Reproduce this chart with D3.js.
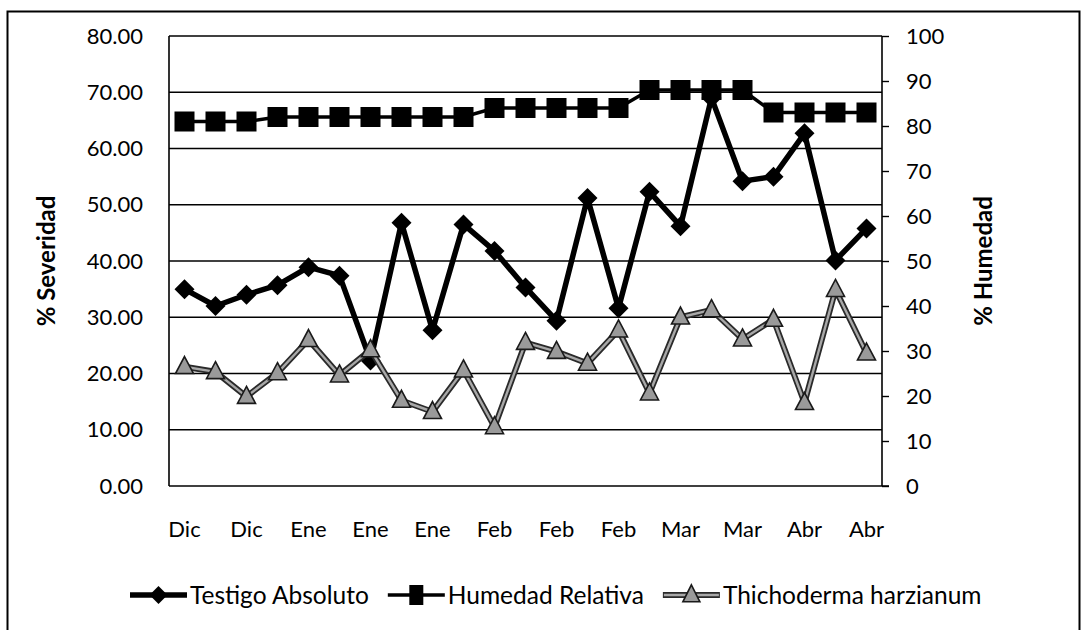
<!DOCTYPE html>
<html>
<head>
<meta charset="utf-8">
<script src="https://cdn.jsdelivr.net/npm/d3@7"></script>
<style>
  html, body { margin: 0; padding: 0; background: #fff; }
  svg { display: block; font-family: Lato, "Open Sans", sans-serif; }
</style>
</head>
<body>
<svg id="chart" width="1082" height="630"></svg>
<script>
// Sampling dates (23 readings, every other one labelled on the axis)
const categories = ["Dic","Dic","Dic","Dic","Ene","Ene","Ene","Ene","Ene","Ene","Feb","Feb",
                    "Feb","Feb","Feb","Mar","Mar","Mar","Mar","Abr","Abr","Abr","Abr"];

// % Severidad (left axis)
const testigo = [35.0, 32.0, 34.0, 35.7, 38.9, 37.4, 22.3, 46.8, 27.7, 46.5, 41.8, 35.3,
                 29.4, 51.2, 31.6, 52.3, 46.2, 69.0, 54.2, 55.0, 62.7, 40.1, 45.8];
const thichoderma = [21.2, 20.3, 15.9, 20.1, 26.0, 19.7, 24.2, 15.2, 13.2, 20.6, 10.5, 25.5,
                     23.9, 21.8, 27.7, 16.5, 30.0, 31.3, 26.1, 29.6, 14.8, 34.9, 23.6];
// % Humedad relativa (right axis)
const humedad = [81, 81, 81, 82, 82, 82, 82, 82, 82, 82, 84, 84,
                 84, 84, 84, 88, 88, 88, 88, 83, 83, 83, 83];

const leftTicks = [0, 10, 20, 30, 40, 50, 60, 70, 80];
const rightTicks = [0, 10, 20, 30, 40, 50, 60, 70, 80, 90, 100];
const seriesNames = ["Testigo Absoluto", "Humedad Relativa", "Thichoderma harzianum"];

const svg = d3.select("#chart");
const plot = { left: 169, right: 882, top: 36, bottom: 486 };

// chart area border
svg.append("rect")
  .attr("x", 7.5).attr("y", 11.5).attr("width", 1072).attr("height", 640)
  .attr("fill", "#fff").attr("stroke", "#000").attr("stroke-width", 2);

const idx = d3.range(categories.length);
const x = d3.scaleBand().domain(idx).range([plot.left, plot.right]).padding(0);
const cx = i => x(i) + x.bandwidth() / 2;
const yL = d3.scaleLinear().domain([0, 80]).range([plot.bottom, plot.top]);
const yR = d3.scaleLinear().domain([0, 100]).range([plot.bottom, plot.top]);

// horizontal gridlines
svg.append("g").selectAll("line").data(leftTicks.filter(d => d > 0)).join("line")
  .attr("x1", plot.left).attr("x2", plot.right)
  .attr("y1", d => yL(d)).attr("y2", d => yL(d))
  .attr("stroke", "#000").attr("stroke-width", 1.4);

// left axis
const gL = svg.append("g").attr("transform", `translate(${plot.left},0)`)
  .call(d3.axisLeft(yL).tickValues(leftTicks).tickFormat(d3.format(".2f")).tickSize(0).tickPadding(26));
// right axis
const gR = svg.append("g").attr("transform", `translate(${plot.right},0)`)
  .call(d3.axisRight(yR).tickValues(rightTicks).tickFormat(d3.format("d")).tickSize(7).tickPadding(17));
// bottom axis
const gB = svg.append("g").attr("transform", `translate(0,${plot.bottom})`)
  .call(d3.axisBottom(x).tickValues(idx.filter(i => i % 2 === 0))
    .tickFormat(i => categories[i]).tickSize(0).tickPadding(35));

[gL, gR, gB].forEach(g => {
  g.select(".domain").attr("stroke", "#000").attr("stroke-width", 1.6);
  g.selectAll(".tick line").attr("stroke", "#000").attr("stroke-width", 1.4);
  g.selectAll("text").attr("fill", "#000").style("font-size", "22px").style("font-family", "Lato, sans-serif");
});
gR.select(".domain").attr("d", `M0,${plot.top}V${plot.bottom}`);
gL.select(".domain").attr("d", `M0,${plot.top}V${plot.bottom}`);
gB.select(".domain").attr("d", `M${plot.left},0H${plot.right + 7}`);

// axis titles
svg.append("text")
  .attr("transform", "translate(55,261) rotate(-90)")
  .attr("text-anchor", "middle").attr("font-weight", "bold").attr("font-size", 24)
  .text("% Severidad");
svg.append("text")
  .attr("transform", "translate(992,261) rotate(-90)")
  .attr("text-anchor", "middle").attr("font-weight", "bold").attr("font-size", 24)
  .text("% Humedad");

// marker shapes
const diamondPath = r => `M0,${-r}L${r},0L0,${r}L${-r},0Z`;
const trianglePath = (w, h) => `M0,${-h * 0.6}L${w / 2},${h * 0.4}L${-w / 2},${h * 0.4}Z`;

const lineL = d3.line().x((d, i) => cx(i)).y(d => yL(d));
const lineR = d3.line().x((d, i) => cx(i)).y(d => yR(d));

// Testigo Absoluto
const gT = svg.append("g");
gT.append("path").attr("d", lineL(testigo)).attr("fill", "none")
  .attr("stroke", "#000").attr("stroke-width", 5.5).attr("stroke-linejoin", "round");
gT.selectAll("path.m").data(testigo).join("path").attr("class", "m")
  .attr("transform", (d, i) => `translate(${cx(i)},${yL(d)})`)
  .attr("d", diamondPath(10)).attr("fill", "#000");

// Humedad Relativa
const gH = svg.append("g");
gH.append("path").attr("d", lineR(humedad)).attr("fill", "none")
  .attr("stroke", "#000").attr("stroke-width", 3.5);
gH.selectAll("rect").data(humedad).join("rect")
  .attr("x", (d, i) => cx(i) - 10).attr("y", d => yR(d) - 10)
  .attr("width", 20).attr("height", 20).attr("fill", "#000");

// Thichoderma harzianum
const gC = svg.append("g");
gC.append("path").attr("d", lineL(thichoderma)).attr("fill", "none")
  .attr("stroke", "#2a2a2a").attr("stroke-width", 6).attr("stroke-linejoin", "round");
gC.append("path").attr("d", lineL(thichoderma)).attr("fill", "none")
  .attr("stroke", "#a8a8a8").attr("stroke-width", 2.4).attr("stroke-linejoin", "round");
gC.selectAll("path.m").data(thichoderma).join("path").attr("class", "m")
  .attr("transform", (d, i) => `translate(${cx(i)},${yL(d)})`)
  .attr("d", trianglePath(18, 17)).attr("fill", "#9a9a9a")
  .attr("stroke", "#1a1a1a").attr("stroke-width", 1.6);

// legend
const legY = 595, symW = 57, txtGap = 3, itemGap = 19;
const leg = svg.append("g");
let lx = 130;
seriesNames.forEach((name, k) => {
  const g = leg.append("g").attr("transform", `translate(${lx},${legY})`);
  const t = g.append("text").attr("x", symW + txtGap).attr("y", 9)
    .attr("font-size", 24.5).attr("fill", "#000").text(name);
  const mid = symW / 2;
  if (k === 0) {
    g.append("line").attr("x1", 0).attr("x2", symW).attr("stroke", "#000").attr("stroke-width", 5.5);
    g.append("path").attr("transform", `translate(${mid},0)`).attr("d", diamondPath(9)).attr("fill", "#000");
  } else if (k === 1) {
    g.append("line").attr("x1", 0).attr("x2", symW).attr("stroke", "#000").attr("stroke-width", 3.5);
    g.append("rect").attr("x", mid - 7).attr("y", -10).attr("width", 14).attr("height", 20).attr("fill", "#000");
  } else {
    g.append("line").attr("x1", 0).attr("x2", symW).attr("stroke", "#2a2a2a").attr("stroke-width", 6);
    g.append("line").attr("x1", 1).attr("x2", symW - 1).attr("stroke", "#a8a8a8").attr("stroke-width", 2.4);
    g.append("path").attr("transform", `translate(${mid},0)`).attr("d", trianglePath(17, 17))
      .attr("fill", "#9a9a9a").attr("stroke", "#1a1a1a").attr("stroke-width", 1.6);
  }
  lx += symW + txtGap + t.node().getComputedTextLength() + itemGap;
});
</script>
</body>
</html>
